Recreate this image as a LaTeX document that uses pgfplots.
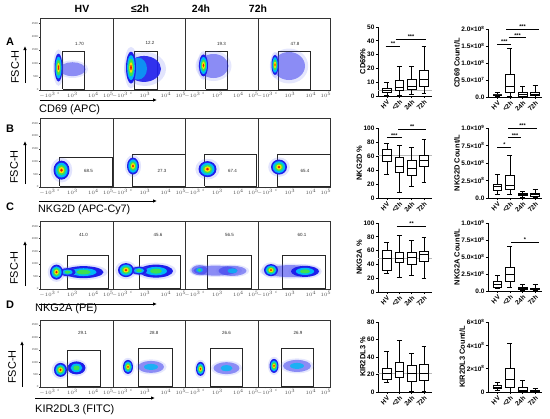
\documentclass[border=0pt]{standalone}
\usepackage{fontspec}
\setmainfont{Liberation Sans}
\usepackage{pgfplots}
\pgfplotsset{compat=1.18}
\usepgfplotslibrary{statistics}
\usetikzlibrary{arrows.meta}

\pgfdeclareplotmark{ell}{\pgfpathcircle{\pgfpointorigin}{\pgfplotmarksize}\pgfusepathqfill}

\definecolor{dB}{RGB}{30,30,235}
\definecolor{dC}{RGB}{0,185,245}
\definecolor{dG}{RGB}{60,225,80}
\definecolor{dY}{RGB}{250,225,0}
\definecolor{dR}{RGB}{235,25,0}
\definecolor{dH}{RGB}{110,120,245}

\newcommand{\blob}[6][1]{\addplot[only marks, mark=ell, mark size=1bp, mark options={xscale=#4, yscale=#5, fill=#6, fill opacity=#1, draw=none}, forget plot] coordinates {(#2,#3)};}
\newcommand{\dense}[4]{%
\blob[0.2]{#1}{#2}{1.35*#3}{1.3*#4}{dH}%
\blob{#1}{#2}{#3}{#4}{dB}%
\blob{#1}{#2}{0.78*#3}{0.78*#4}{dC}%
\blob{#1}{#2}{0.55*#3}{0.55*#4}{dG}%
\blob{#1}{#2}{0.34*#3}{0.34*#4}{dY}%
\blob{#1}{#2}{0.17*#3}{0.17*#4}{dR}}
\newcommand{\midc}[4]{%
\blob[0.2]{#1}{#2}{1.2*#3}{1.3*#4}{dH}%
\blob{#1}{#2}{#3}{#4}{dB}%
\blob{#1}{#2}{0.65*#3}{0.65*#4}{dC}%
\blob{#1}{#2}{0.35*#3}{0.38*#4}{dG}}
\newcommand{\sparse}[4]{%
\blob[0.18]{#1}{#2}{1.2*#3}{1.25*#4}{dH}%
\blob[0.45]{#1}{#2}{#3}{#4}{dB}}
\newcommand{\gate}[3]{\addplot[draw=gray!30!black, line width=0.45bp, mark=none, forget plot] coordinates {(#1,2) (#1,#3) (#2,#3) (#2,2) (#1,2)};}
\newcommand{\bx}[6]{\addplot[black, line width=0.8bp, fill=white, boxplot prepared={draw position=#1, lower whisker=#2, lower quartile=#3, median=#4, upper quartile=#5, upper whisker=#6, box extend=0.7, whisker extend=0.4}] coordinates {};}
\newcommand{\sig}[5]{\addplot[black, line width=0.7bp, mark=none] coordinates {(#1,#3) (#2,#3)}; \node[star] at (axis cs:#4,#3) {#5};}
\newcommand{\refl}[3]{\addplot[gray!55, line width=0.6bp, mark=none] coordinates {(#1,#3) (#2,#3)};}

\tikzset{
  star/.style={font=\fontsize{5.5}{6}\selectfont\bfseries, inner sep=0pt, anchor=south, yshift=0.6bp},
  pct/.style={font=\fontsize{4.5}{5}\selectfont, text=black!85, inner sep=0pt},
  arr/.style={line width=1bp, -{Latex[length=4bp, width=3.5bp]}},
}

\pgfplotsset{
  flowax/.style={scale only axis, width=72.5bp, anchor=south west, xmin=0, xmax=72.5, ymin=0, ymax=270,
    axis line style={draw=gray!40!black, line width=0.5bp},
    xtick={7,18,32,53,68}, xticklabels={$-10^3$,0,$10^3$,$10^4$,$10^5$},
    xticklabel style={font=\fontsize{2.8}{3}\selectfont, text=gray!60!black, inner sep=0.6pt},
    yticklabel style={font=\fontsize{2.8}{3}\selectfont, text=gray!60!black, inner sep=0.6pt},
    ytick=\empty, tick style={draw=gray!40!black, line width=0.3bp}, major tick length=1.3bp,
    tick align=outside, xtick pos=bottom},
  flowy/.style={ytick={0,50,100,150,200,250}, yticklabels={0,50K,100K,150K,200K,250K}, ytick pos=left},
  boxax/.style={scale only axis, width=54bp, anchor=south west, axis lines*=left,
    axis line style={black, line width=0.9bp},
    boxplot/draw direction=y,
    xtick={0,1,2,3}, xticklabels={HV,<2h,24h,72h},
    xticklabel style={rotate=45, anchor=north east, font=\fontsize{6.5}{7}\selectfont\bfseries, inner sep=0.8pt},
    yticklabel style={font=\fontsize{6.5}{7}\selectfont\bfseries, inner sep=1.2pt},
    ylabel style={font=\fontsize{7.5}{8}\selectfont\bfseries},
    tick align=outside, major tick length=2.2bp, tick style={black, line width=0.8bp},
    clip=false, ylabel shift=-3pt},
  c1/.style={boxax, xmin=-0.72, xmax=3.65},
  c2/.style={boxax, xmin=-0.75, xmax=3.55},
}

\begin{document}
\begin{tikzpicture}
\path[use as bounding box] (0,0) rectangle (550bp,-419bp);

% headers
\node[font=\fontsize{10.5}{12}\selectfont\bfseries] at (82bp,-9bp) {HV};
\node[font=\fontsize{10.5}{12}\selectfont\bfseries] at (140bp,-9bp) {≤2h};
\node[font=\fontsize{10.5}{12}\selectfont\bfseries] at (201bp,-9bp) {24h};
\node[font=\fontsize{10.5}{12}\selectfont\bfseries] at (258bp,-9bp) {72h};

% row letters
\node[font=\fontsize{11}{12}\selectfont\bfseries] at (10bp,-42bp) {A};
\node[font=\fontsize{11}{12}\selectfont\bfseries] at (10bp,-129bp) {B};
\node[font=\fontsize{11}{12}\selectfont\bfseries] at (10bp,-207bp) {C};
\node[font=\fontsize{11}{12}\selectfont\bfseries] at (10bp,-305bp) {D};

% FSC-H labels and arrows
\node[rotate=90, font=\fontsize{11}{12}\selectfont] at (15bp,-67bp) {FSC-H};
\node[rotate=90, font=\fontsize{11}{12}\selectfont] at (14bp,-167bp) {FSC-H};
\node[rotate=90, font=\fontsize{11}{12}\selectfont] at (14bp,-268bp) {FSC-H};
\node[rotate=90, font=\fontsize{11}{12}\selectfont] at (12bp,-367bp) {FSC-H};
\draw[arr] (25bp,-83bp) -- (25bp,-46bp);
\draw[arr] (40bp,-100bp) -- (157bp,-100bp);
\draw[arr] (25bp,-184bp) -- (25bp,-141bp);
\draw[arr] (39bp,-201bp) -- (157bp,-201bp);
\draw[arr] (25bp,-286bp) -- (25bp,-241bp);
\draw[arr] (39bp,-304bp) -- (157bp,-304bp);
\draw[arr] (22bp,-387bp) -- (22bp,-341bp);
\draw[arr] (35bp,-398bp) -- (155bp,-398bp);

\node[anchor=west, font=\fontsize{11}{12}\selectfont, inner sep=0pt] at (39bp,-110bp) {CD69 (APC)};
\node[anchor=west, font=\fontsize{10.8}{12}\selectfont, inner sep=0pt] at (38bp,-210bp) {NKG2D (APC-Cy7)};
\node[anchor=west, font=\fontsize{11}{12}\selectfont, inner sep=0pt] at (35bp,-309bp) {NKG2A (PE)};
\node[anchor=west, font=\fontsize{11}{12}\selectfont, inner sep=0pt] at (35bp,-410bp) {KIR2DL3 (FITC)};

% ===== Row A flow =====
\begin{axis}[flowax, flowy, at={(40.5bp,-90bp)}, height=72bp]
\sparse{32}{78}{13}{7}
\dense{18}{84}{4}{14}
\gate{22}{44}{146}
\node[pct] at (axis cs:39,172) {1.70};
\end{axis}
\begin{axis}[flowax, at={(113bp,-90bp)}, height=72bp]
\blob[0.2]{32}{79}{21}{17}{dH}
\blob[0.9]{31}{79}{17}{13}{dB}
\blob[0.7]{25}{80}{9}{11}{dC}
\dense{18}{84}{5}{16}
\gate{21}{44}{146}
\node[pct] at (axis cs:37,176) {12.2};
\end{axis}
\begin{axis}[flowax, at={(185.5bp,-90bp)}, height=72bp]
\sparse{28}{90}{15}{12}
\dense{18}{92}{4.5}{11}
\gate{20}{42}{146}
\node[pct] at (axis cs:36,172) {19.3};
\end{axis}
\begin{axis}[flowax, at={(258bp,-90bp)}, height=72bp]
\sparse{31}{90}{16}{14}
\dense{17}{94}{3.5}{10}
\gate{20}{52}{146}
\node[pct] at (axis cs:37,172) {47.8};
\end{axis}

% ===== Row B flow =====
\begin{axis}[flowax, flowy, at={(40.5bp,-187bp)}, height=69bp]
\dense{21}{66}{8}{9.5}
\gate{19}{72}{117}
\node[pct] at (axis cs:48,63) {68.5};
\end{axis}
\begin{axis}[flowax, at={(113bp,-187bp)}, height=69bp]
\dense{20}{82}{6}{8.5}
\gate{19}{72}{129}
\node[pct] at (axis cs:49,63) {27.3};
\end{axis}
\begin{axis}[flowax, at={(185.5bp,-187bp)}, height=69bp]
\dense{22}{70}{9}{8}
\gate{19}{71}{129}
\node[pct] at (axis cs:47,63) {67.4};
\end{axis}
\begin{axis}[flowax, at={(258bp,-187bp)}, height=69bp]
\dense{21}{78}{8}{7.5}
\gate{19}{72}{129}
\node[pct] at (axis cs:47,63) {65.4};
\end{axis}

% ===== Row C flow =====
\begin{axis}[flowax, flowy, at={(40.5bp,-289bp)}, height=68bp]
\midc{43}{67}{20}{6}
\midc{27}{67}{8}{4}
\dense{16}{67}{6.5}{7.5}
\gate{27}{68}{135}
\node[pct] at (axis cs:43,214) {41.0};
\end{axis}
\begin{axis}[flowax, at={(113bp,-289bp)}, height=68bp]
\midc{43}{71}{17}{6.5}
\midc{26}{73}{8}{4}
\dense{13}{75}{8}{7}
\gate{26}{67}{135}
\node[pct] at (axis cs:45,214) {45.6};
\end{axis}
\begin{axis}[flowax, at={(185.5bp,-289bp)}, height=68bp]
\sparse{30}{73}{22}{5}
\sparse{47}{72}{14}{5}
\sparse{14}{75}{8}{5}
\blob[0.8]{47}{72}{5}{2.5}{dC}
\blob[0.8]{14}{75}{3.5}{2.5}{dC}
\blob{14}{75}{1.8}{1.5}{dG}
\gate{22}{66}{135}
\node[pct] at (axis cs:44,214) {56.5};
\end{axis}
\begin{axis}[flowax, at={(258bp,-289bp)}, height=68bp]
\sparse{32}{71}{25}{6}
\midc{47}{70}{14}{5.5}
\dense{13}{75}{7}{6}
\gate{24}{67}{135}
\node[pct] at (axis cs:44,214) {60.1};
\end{axis}

% ===== Row D flow =====
\begin{axis}[flowax, flowy, at={(40.5bp,-387bp)}, height=67bp]
\midc{36}{77}{9}{6.5}
\dense{20}{69}{6.5}{7}
\gate{27}{60}{149}
\node[pct] at (axis cs:42,218) {29.1};
\end{axis}
\begin{axis}[flowax, at={(113bp,-387bp)}, height=67bp]
\sparse{38}{81}{13}{6}
\blob[0.8]{38}{81}{7}{3}{dC}
\dense{15}{81}{5}{7}
\gate{25}{59}{157}
\node[pct] at (axis cs:41,218) {28.8};
\end{axis}
\begin{axis}[flowax, at={(185.5bp,-387bp)}, height=67bp]
\sparse{41}{76}{13}{6}
\blob[0.8]{41}{76}{6}{3}{dC}
\dense{15}{73}{4.5}{7}
\gate{25}{57}{157}
\node[pct] at (axis cs:41,218) {26.6};
\end{axis}
\begin{axis}[flowax, at={(258bp,-387bp)}, height=67bp]
\sparse{39}{85}{14}{6}
\blob[0.8]{39}{85}{7}{3}{dC}
\dense{16}{85}{4.5}{7}
\gate{23}{55}{157}
\node[pct] at (axis cs:40,218) {26.9};
\end{axis}

% ===== Box plots, row A =====
\begin{axis}[c1, at={(378bp,-96bp)}, height=69bp, ymin=0, ymax=50,
  ytick={0,10,20,30,40,50}, yticklabels={0,10,20,30,40,50}, ylabel={CD69\%}]
\refl{-0.72}{3.65}{3.8}
\bx{0}{0.5}{2.8}{4.0}{5.7}{9.9}
\bx{1}{0.5}{4.0}{6.4}{11.1}{21.2}
\bx{2}{1.2}{4.7}{7.1}{12.3}{21.2}
\bx{3}{2.1}{7.1}{11.8}{18.6}{36.3}
\sig{-0.1}{1.1}{36.3}{0.5}{**}
\sig{0.7}{3.2}{40.8}{1.95}{***}
\end{axis}
\begin{axis}[c2, at={(488bp,-97bp)}, height=68bp, ymin=0, ymax=20,
  ytick={0,5,10,15,20},
  yticklabels={{0.0},{5.0×10\textsuperscript{7}},{1.0×10\textsuperscript{8}},{1.5×10\textsuperscript{8}},{2.0×10\textsuperscript{8}}},
  ylabel={CD69 Count/L}]
\bx{0}{0.1}{0.4}{0.6}{0.8}{1.4}
\bx{1}{0.1}{1.3}{3.0}{6.7}{14.2}
\bx{2}{0.0}{0.3}{0.7}{1.3}{3.2}
\bx{3}{0.0}{0.4}{0.7}{1.3}{3.4}
\sig{0}{1.1}{15.5}{0.55}{***}
\sig{0.9}{2.3}{17.4}{1.6}{***}
\sig{0.7}{3.3}{19.9}{2.0}{***}
\end{axis}

% ===== Box plots, row B =====
\begin{axis}[c1, at={(378bp,-198bp)}, height=70bp, ymin=0, ymax=100,
  ytick={0,20,40,60,80,100}, yticklabels={0,20,40,60,80,100}, ylabel={NKG2D \%}]
\refl{-0.72}{3.65}{61}
\bx{0}{33.7}{53}{61.5}{70}{78}
\bx{1}{8.7}{36}{45.7}{57.7}{75}
\bx{2}{16}{32.7}{42}{54}{72}
\bx{3}{23}{45.7}{54}{61.5}{84}
\sig{0}{1.2}{86}{0.6}{***}
\sig{0.9}{3.2}{98.6}{2.05}{**}
\end{axis}
\begin{axis}[c2, at={(488bp,-198bp)}, height=70bp, ymin=0, ymax=10,
  ytick={0,2.5,5,7.5,10},
  yticklabels={{0.0},{2.5×10\textsuperscript{8}},{5.0×10\textsuperscript{8}},{7.5×10\textsuperscript{8}},{1.0×10\textsuperscript{9}}},
  ylabel={NKG2D Count/L}]
\bx{0}{0.5}{1.1}{1.6}{2.0}{3.4}
\bx{1}{0.5}{1.2}{1.8}{3.3}{6.1}
\bx{2}{0.1}{0.35}{0.5}{0.6}{1.0}
\bx{3}{0.1}{0.3}{0.45}{0.6}{1.2}
\sig{0}{1.1}{7.3}{0.55}{*}
\sig{0.85}{1.9}{8.6}{1.4}{***}
\sig{0.85}{3.15}{9.9}{2.0}{***}
\end{axis}

% ===== Box plots, row C =====
\begin{axis}[c1, at={(378bp,-292bp)}, height=69bp, ymin=0, ymax=100,
  ytick={0,20,40,60,80,100}, yticklabels={0,20,40,60,80,100}, ylabel={NKG2A \%}]
\refl{-0.72}{3.65}{48.6}
\bx{0}{27.6}{31}{48.6}{61}{71.4}
\bx{1}{21.4}{43}{48.6}{57}{82}
\bx{2}{24}{40.5}{50}{57}{75}
\bx{3}{20}{44.3}{55}{59.5}{78.6}
\sig{0.8}{3.2}{95}{2.0}{**}
\end{axis}
\begin{axis}[c2, at={(488bp,-291bp)}, height=68bp, ymin=0, ymax=10,
  ytick={0,2.5,5,7.5,10},
  yticklabels={{0.0},{2.5×10\textsuperscript{8}},{5.0×10\textsuperscript{8}},{7.5×10\textsuperscript{8}},{1.0×10\textsuperscript{9}}},
  ylabel={NKG2A Count/L}]
\bx{0}{0.4}{0.59}{0.98}{1.46}{2.3}
\bx{1}{0.5}{1.37}{2.4}{3.5}{6.6}
\bx{2}{0.1}{0.25}{0.35}{0.5}{1.0}
\bx{3}{0.1}{0.2}{0.25}{0.4}{0.9}
\sig{1.1}{3.3}{7.2}{2.2}{*}
\end{axis}

% ===== Box plots, row D =====
\begin{axis}[c1, at={(378bp,-392bp)}, height=70bp, ymin=0, ymax=80,
  ytick={0,20,40,60,80}, yticklabels={0,20,40,60,80}, ylabel={KIR2DL3 \%}]
\refl{-0.72}{3.65}{21.7}
\bx{0}{11.4}{14.1}{21.7}{26.7}{46.9}
\bx{1}{0}{17}{24}{34.3}{59}
\bx{2}{0.8}{12.6}{21}{30.5}{44.6}
\bx{3}{0.8}{13.3}{21}{31.2}{52.6}
\end{axis}
\begin{axis}[c2, at={(488bp,-392bp)}, height=70bp, ymin=0, ymax=6,
  ytick={0,2,4,6},
  yticklabels={{0},{2×10\textsuperscript{8}},{4×10\textsuperscript{8}},{6×10\textsuperscript{8}}},
  ylabel={KIR2DL3 Count/L}]
\bx{0}{0.14}{0.29}{0.43}{0.57}{0.86}
\bx{1}{0}{0.37}{1.06}{2.0}{4.14}
\bx{2}{0}{0.06}{0.14}{0.37}{1.0}
\bx{3}{0}{0.05}{0.1}{0.14}{0.29}
\end{axis}

\end{tikzpicture}
\end{document}
